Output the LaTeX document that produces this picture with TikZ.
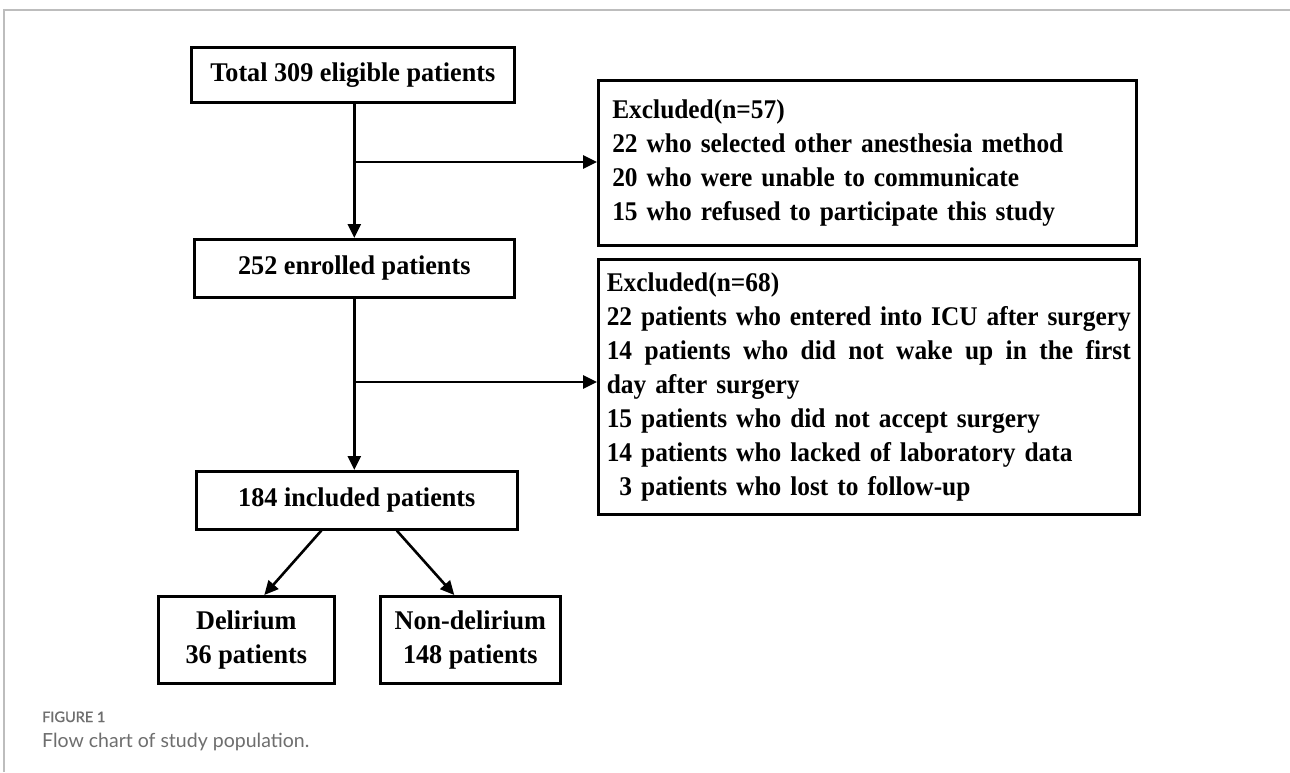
\documentclass[tikz,border=0pt]{standalone}
\usepackage{fontspec}
\setmainfont{Liberation Serif}[FakeStretch=0.97]
\newfontfamily\exfont{Liberation Serif}[FakeStretch=0.94]
\newfontfamily\capfont{Lato}
\newfontfamily\capfontb{Lato}[FakeBold=1.2]
\usetikzlibrary{arrows.meta}
\definecolor{capgray}{HTML}{6E6E6E}
\definecolor{framegray}{HTML}{BDBDBD}
\begin{document}
\begin{tikzpicture}[x=1pt,y=-1pt,
  box/.style={draw=black, line width=2.6pt, anchor=north west, inner sep=0pt,
    font=\fontsize{27}{34}\selectfont\bfseries, align=center},
  exbox/.style={box, align=left, font=\exfont\fontsize{27}{34}\selectfont\bfseries},
  arr/.style={line width=2.6pt, -{Triangle[length=14pt,width=13pt]}},
  framestyle/.style={draw=framegray, line width=1.2pt},
  captext/.style={anchor=base west, inner sep=0pt, text=capgray}]
\useasboundingbox (0,0) rectangle (1290,772);
\fill[white] (0,0) rectangle (1290,772);
\draw[framestyle] (4,772) -- (4,10) -- (1290,10);

\node[box, minimum width=323pt, minimum height=55pt] (b1) at (190,46) {Total 309 eligible patients};
\node[box, minimum width=320pt, minimum height=58pt] (b2) at (193,238) {252 enrolled patients};
\node[box, minimum width=321pt, minimum height=58pt] (b3) at (195,470) {184 included patients};
\node[box, minimum width=176pt, minimum height=87pt] (d1) at (157,595) {Delirium\\36 patients};
\node[box, minimum width=180pt, minimum height=87pt] (d2) at (379,595) {Non-delirium\\148 patients};

\node[exbox, text width=510pt, inner xsep=14pt, minimum height=165pt] (ex1) at (597,79)
  {Excluded(n=57)\\
   22 who selected other anesthesia method\\
   20 who were unable to communicate\\
   15 who refused to participate this study};
\node[exbox, text width=524pt, inner xsep=8.5pt, minimum height=255pt] (ex2) at (597,258)
  {Excluded(n=68)\\
   \makebox[524pt][l]{22\hfill patients\hfill who\hfill entered\hfill into\hfill ICU\hfill after\hfill surgery}\\
   \makebox[524pt][l]{14\hfill patients\hfill who\hfill did\hfill not\hfill wake\hfill up\hfill in\hfill the\hfill first}\\
   day after surgery\\
   15 patients who did not accept surgery\\
   14 patients who lacked of laboratory data\\
   \hphantom{1}3 patients who lost to follow-up};

\coordinate (j1) at (353,162);
\coordinate (j2) at (353,382);
\draw[arr] (b2.north |- b1.south) -- (b2.north);
\draw[arr] (j1) -- (j1 -| ex1.west);
\draw[arr] (b2.south) -- (b2.south |- b3.north);
\draw[arr] (j2) -- (j2 -| ex2.west);
\draw[arr] ([xshift=-35.5pt]b3.south) -- ([xshift=18pt]d1.north);
\draw[arr] ([xshift=40pt]b3.south) -- ([xshift=-16pt]d2.north);

\node[captext, font=\capfontb\fontsize{14.5}{16}\selectfont] (fig) at (42,722) {FIGURE 1};
\node[captext, font=\capfont\fontsize{19.5}{22}\selectfont] (cap) at (42,747) {Flow chart of study population.};
\end{tikzpicture}
\end{document}
